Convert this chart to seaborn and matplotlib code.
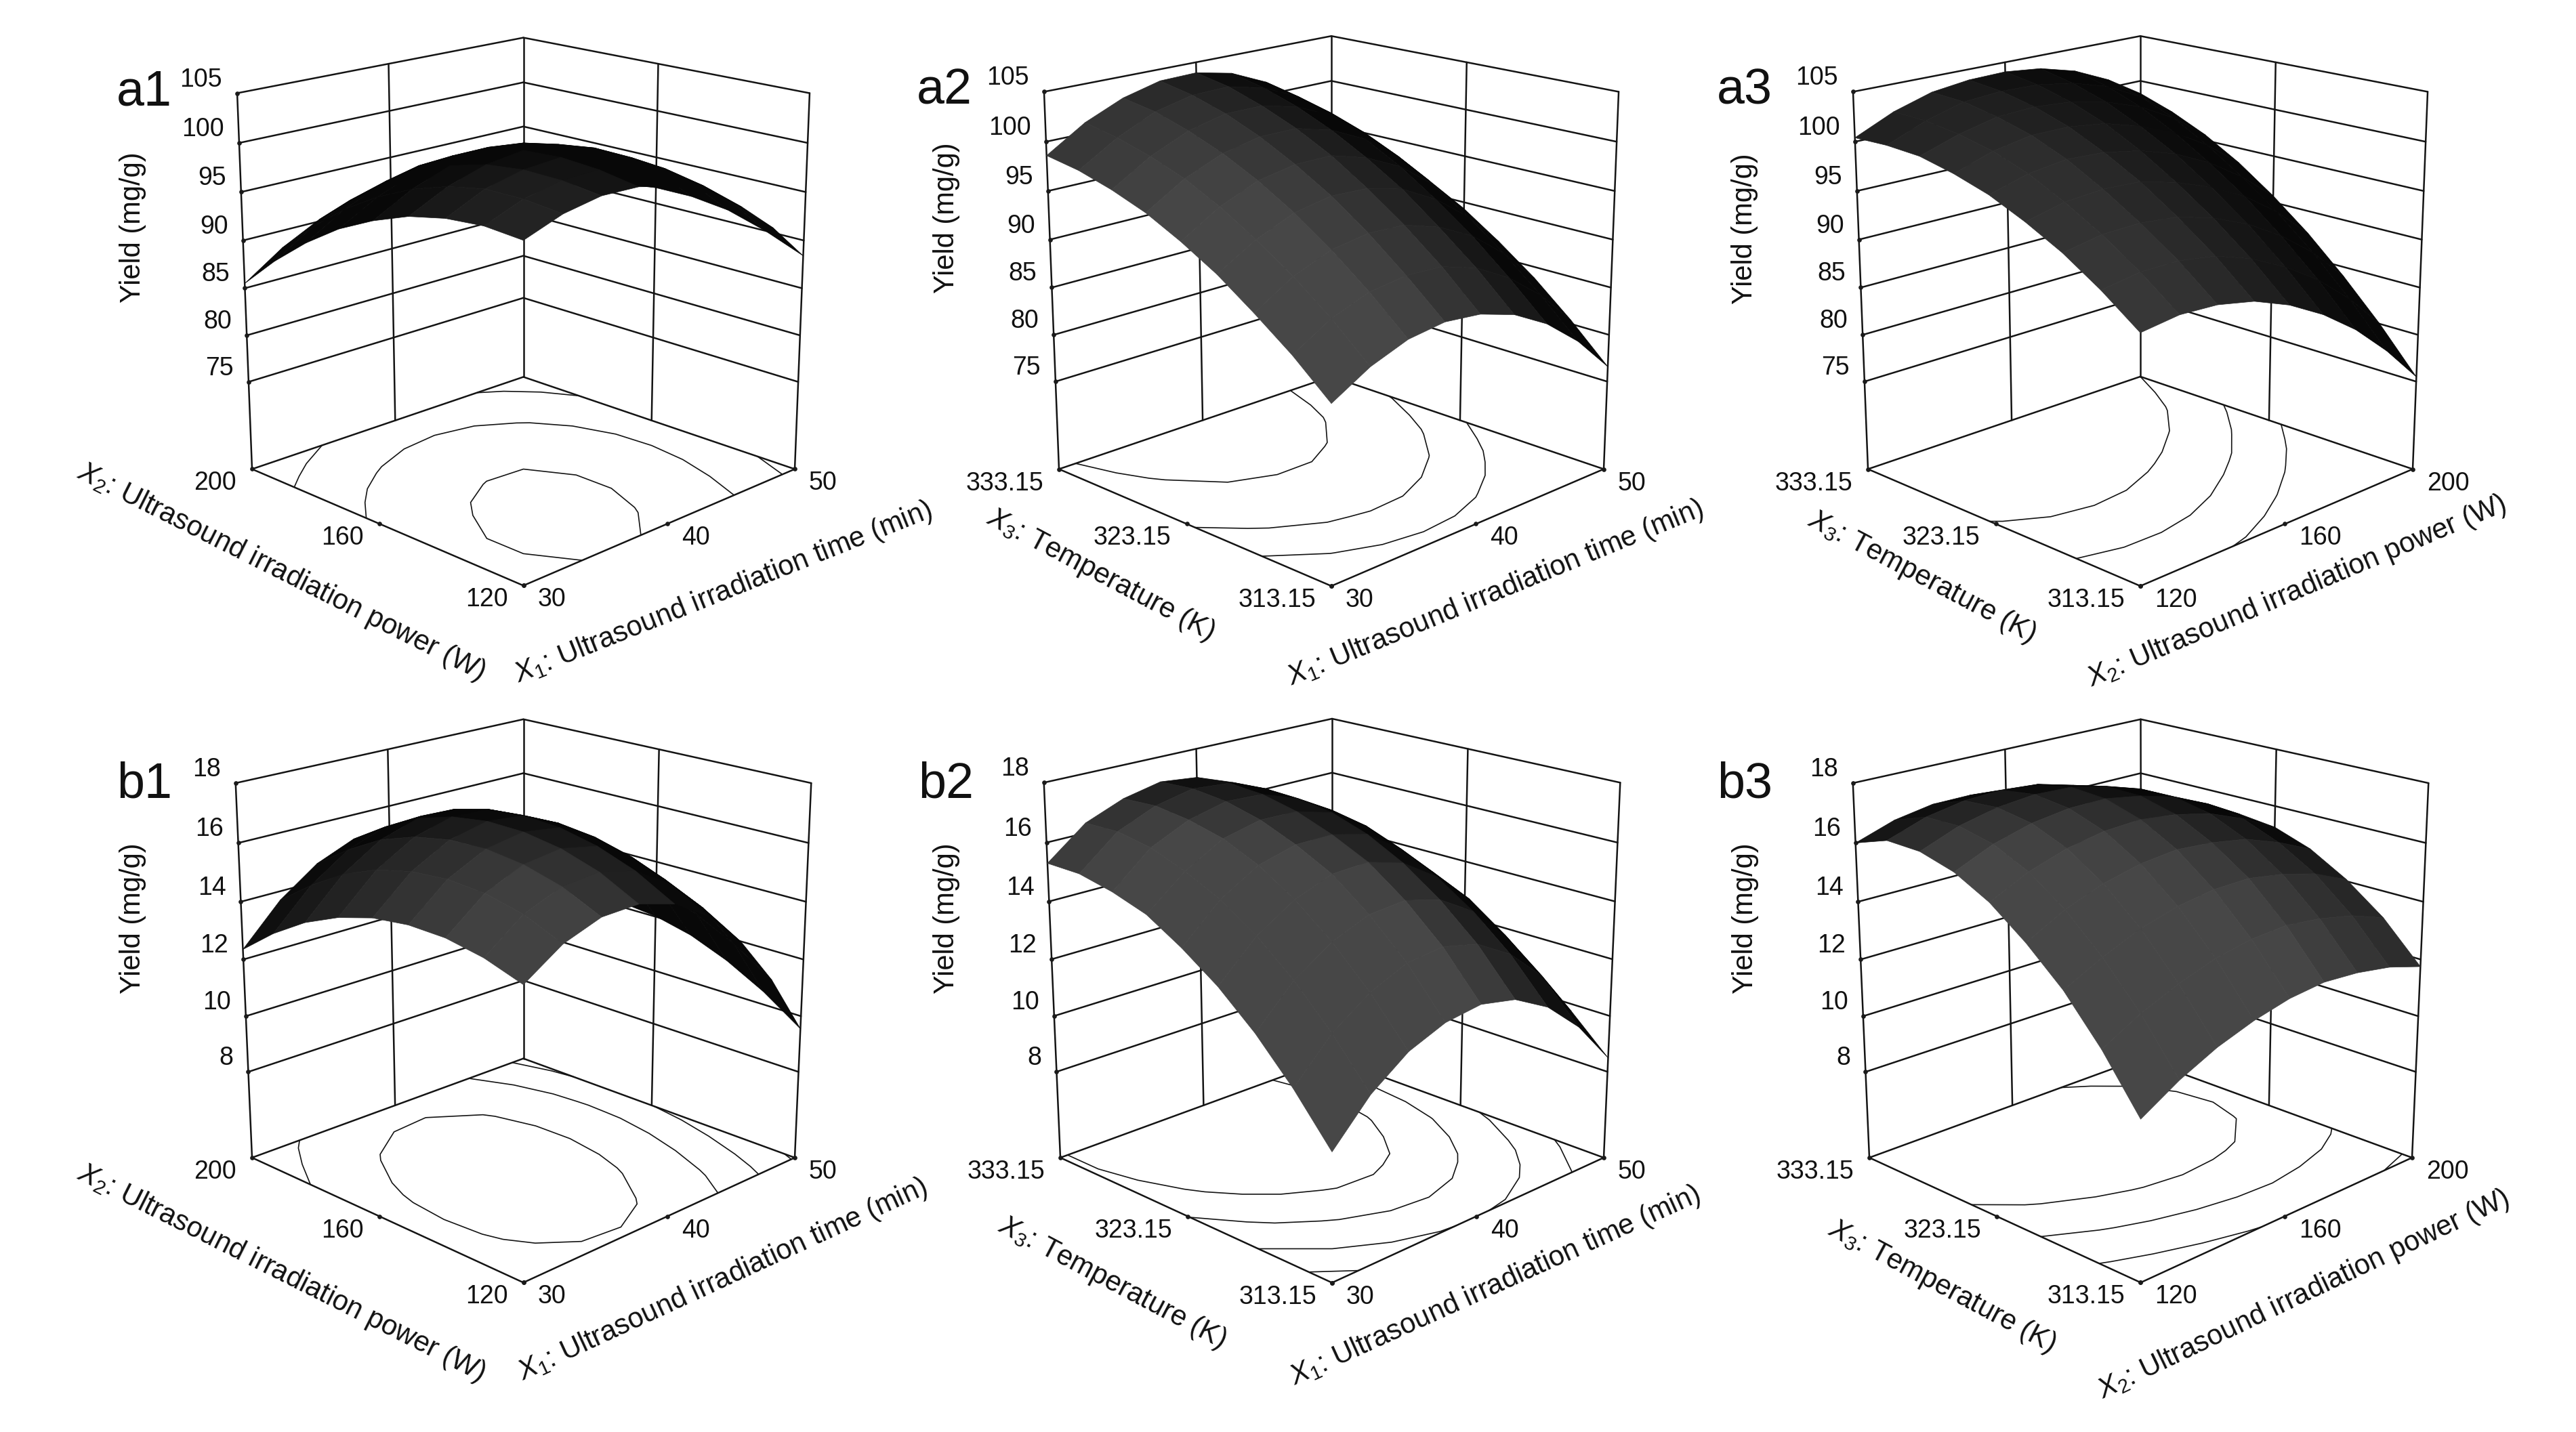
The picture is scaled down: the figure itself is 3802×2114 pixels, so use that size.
import numpy as np
import seaborn as sns
import matplotlib
matplotlib.use("Agg")
import matplotlib.pyplot as plt
from mpl_toolkits.mplot3d import proj3d

# ---------------- data ----------------
X1_GRID = [30, 32.5, 35, 37.5, 40, 42.5, 45, 47.5, 50]
X2_GRID = [120, 130, 140, 150, 160, 170, 180, 190, 200]
X3_GRID = [313.15, 315.65, 318.15, 320.65, 323.15, 325.65, 328.15, 330.65, 333.15]
X1_TICKS = [30, 40, 50]
X2_TICKS = [120, 160, 200]
X3_TICKS = [313.15, 323.15, 333.15]
X1_TICKLABELS = ["30", "40", "50"]
X2_TICKLABELS = ["120", "160", "200"]
X3_TICKLABELS = ["313.15", "323.15", "333.15"]
Z_TICKS_A = [75, 80, 85, 90, 95, 100, 105]
Z_TICKS_B = [8, 10, 12, 14, 16, 18]
Z_FLOOR_A = 65.44
Z_FLOOR_B = 4.85

Z_A1 = [
    [98.2, 99.6, 100.3, 100.2, 99.3, 97.7, 95.4, 92.3, 88.4],
    [98.5, 100.0, 100.8, 100.9, 100.2, 98.8, 96.6, 93.7, 90.0],
    [98.2, 100.0, 100.9, 101.2, 100.7, 99.4, 97.4, 94.6, 91.2],
    [97.4, 99.3, 100.5, 101.0, 100.6, 99.5, 97.6, 95.0, 91.7],
    [96.0, 98.1, 99.5, 100.1, 100.0, 99.0, 97.3, 94.9, 91.7],
    [94.2, 96.4, 97.9, 98.7, 98.7, 98.0, 96.5, 94.2, 91.2],
    [91.8, 94.2, 95.8, 96.8, 96.9, 96.4, 95.0, 93.0, 90.3],
    [88.9, 91.4, 93.2, 94.3, 94.7, 94.3, 93.1, 91.4, 88.9],
    [85.5, 88.2, 90.2, 91.4, 91.9, 91.7, 90.8, 89.2, 87.0],
]
Z_A2 = [
    [83.1, 85.3, 86.7, 87.2, 86.8, 85.6, 83.5, 80.5, 76.6],
    [86.4, 88.7, 90.1, 90.6, 90.4, 89.2, 87.1, 84.2, 80.4],
    [89.2, 91.6, 93.1, 93.7, 93.5, 92.3, 90.4, 87.5, 83.8],
    [91.8, 94.1, 95.7, 96.4, 96.2, 95.2, 93.2, 90.4, 86.7],
    [93.9, 96.3, 97.9, 98.6, 98.6, 97.5, 95.7, 92.9, 89.3],
    [95.7, 98.1, 99.7, 100.5, 100.5, 99.5, 97.7, 95.0, 91.4],
    [97.0, 99.4, 101.1, 102.0, 102.0, 101.1, 99.4, 96.7, 93.2],
    [98.0, 100.4, 102.2, 103.1, 103.2, 102.3, 100.6, 98.0, 94.5],
    [98.6, 101.1, 102.8, 103.8, 103.9, 103.1, 101.4, 98.9, 95.4],
]
Z_A3 = [
    [89.7, 90.2, 90.0, 89.2, 87.7, 85.6, 82.9, 79.5, 75.5],
    [92.5, 93.1, 93.1, 92.5, 91.2, 89.3, 86.9, 83.8, 80.0],
    [94.9, 95.6, 95.7, 95.3, 94.2, 92.6, 90.4, 87.6, 84.0],
    [96.8, 97.7, 98.0, 97.8, 96.8, 95.4, 93.5, 90.9, 87.6],
    [98.4, 99.5, 100.0, 99.8, 99.1, 97.9, 96.1, 93.7, 90.7],
    [99.5, 100.8, 101.5, 101.5, 101.0, 99.9, 98.4, 96.2, 93.4],
    [100.3, 101.6, 102.5, 102.7, 102.4, 101.6, 100.3, 98.3, 95.6],
    [100.5, 102.1, 103.2, 103.5, 103.4, 102.8, 101.7, 99.8, 97.3],
    [100.4, 102.2, 103.4, 103.9, 104.0, 103.6, 102.6, 100.9, 98.6],
]
Z_B1 = [
    [14.40, 15.25, 15.70, 15.74, 15.38, 14.60, 13.38, 11.69, 9.55],
    [14.82, 15.79, 16.29, 16.40, 16.09, 15.33, 14.16, 12.54, 10.46],
    [15.05, 16.08, 16.64, 16.81, 16.56, 15.86, 14.76, 13.19, 11.17],
    [15.08, 16.17, 16.80, 17.02, 16.84, 16.20, 15.16, 13.65, 11.70],
    [14.93, 16.07, 16.76, 17.05, 16.92, 16.35, 15.36, 13.92, 12.02],
    [14.57, 15.78, 16.53, 16.88, 16.82, 16.30, 15.37, 13.99, 12.16],
    [14.03, 15.29, 16.11, 16.51, 16.51, 16.06, 15.19, 13.87, 12.10],
    [13.28, 14.56, 15.44, 15.90, 15.96, 15.62, 14.82, 13.56, 11.84],
    [12.35, 13.69, 14.62, 15.15, 15.27, 14.99, 14.25, 13.05, 11.40],
]
Z_B2 = [
    [9.15, 10.51, 11.43, 11.93, 12.10, 11.84, 11.16, 10.04, 8.50],
    [10.70, 12.02, 12.91, 13.46, 13.60, 13.30, 12.57, 11.42, 9.74],
    [12.02, 13.30, 14.15, 14.66, 14.76, 14.42, 13.66, 12.46, 10.84],
    [13.10, 14.34, 15.15, 15.63, 15.68, 15.31, 14.50, 13.37, 11.71],
    [13.95, 15.15, 15.92, 16.26, 16.27, 15.96, 15.12, 13.95, 12.35],
    [14.66, 15.72, 16.46, 16.76, 16.73, 16.38, 15.60, 14.39, 12.75],
    [15.04, 16.16, 16.76, 17.07, 17.01, 16.56, 15.84, 14.59, 12.92],
    [15.29, 16.37, 16.92, 17.20, 17.09, 16.61, 15.85, 14.57, 12.85],
    [15.30, 16.34, 16.86, 17.14, 17.00, 16.53, 15.63, 14.30, 12.55],
]
Z_B3 = [
    [10.20, 10.97, 11.57, 12.00, 12.30, 12.43, 12.34, 12.13, 11.75],
    [11.95, 12.66, 13.20, 13.62, 13.86, 13.94, 13.79, 13.52, 13.08],
    [13.40, 14.05, 14.59, 14.94, 15.13, 15.15, 14.94, 14.61, 14.06],
    [14.51, 15.20, 15.68, 15.98, 16.11, 16.01, 15.80, 15.36, 14.80],
    [15.43, 16.06, 16.48, 16.72, 16.79, 16.64, 16.36, 15.87, 15.25],
    [16.05, 16.62, 16.98, 17.16, 17.18, 16.97, 16.63, 16.08, 15.40],
    [16.38, 16.89, 17.19, 17.32, 17.27, 17.00, 16.61, 16.00, 15.26],
    [16.41, 16.87, 17.11, 17.17, 17.07, 16.74, 16.29, 15.62, 14.83],
    [16.00, 16.45, 16.68, 16.69, 16.53, 16.14, 15.63, 14.95, 14.10],
]
LEVELS_A1 = [90.0, 95.3, 100.0]
LEVELS_A2 = [88.8, 93.4, 99.7]
LEVELS_A3 = [89.6, 94.2, 98.6]
LEVELS_B1 = [9.8, 12.0, 13.95, 15.95]
LEVELS_B2 = [10.1, 12.0, 13.9, 15.5]
LEVELS_B3 = [12.1, 14.2, 15.9]

LABEL_X1 = r"$\mathit{X}_{\mathit{1}}$: Ultrasound irradiation time (min)"
LABEL_X2 = r"$\mathit{X}_{\mathit{2}}$: Ultrasound irradiation power (W)"
LABEL_X3 = r"$\mathit{X}_{\mathit{3}}$: Temperature (K)"
LABEL_Z = "Yield (mg/g)"

# ---------------- styling / layout ----------------
W, H = 3802, 2114
sns.set_theme(style="white")
plt.rcParams["font.family"] = ["Liberation Sans", "DejaVu Sans"]
plt.rcParams["mathtext.fontset"] = "custom"
plt.rcParams["mathtext.rm"] = "Liberation Sans"
plt.rcParams["mathtext.it"] = "Liberation Sans:italic"
plt.rcParams["mathtext.bf"] = "Liberation Sans:bold"

LINE = "#141414"
LW = 1.8
TICK_PT = 27
LABEL_PT = 30
LETTER_PT = 53
ELEV = {"a": 17.5, "b": 19.3}
HEIGHT = {"a": 1.0, "b": 1.004}
FOCAL = 0.62

fig = plt.figure(figsize=(W / 100, H / 100), dpi=100, facecolor="white")

panels = [
    dict(name="a1", row="a", Z=Z_A1, xg=X1_GRID, yg=X2_GRID, xt=X1_TICKS, yt=X2_TICKS,
         xl=X1_TICKLABELS, yl=X2_TICKLABELS, lx=LABEL_X1, ly=LABEL_X2, levels=LEVELS_A1,
         floor=(372, 1173, 692.5), ylab=(415, 844, -26.7), xlab=(1068, 875, 21.8),
         zlab=(196, 336), let=(213, 136)),
    dict(name="a2", row="a", Z=Z_A2, xg=X1_GRID, yg=X3_GRID, xt=X1_TICKS, yt=X3_TICKS,
         xl=X1_TICKLABELS, yl=X3_TICKLABELS, lx=LABEL_X1, ly=LABEL_X3, levels=LEVELS_A2,
         floor=(1563, 2367, 692.5), ylab=(1625, 849, -27.8), xlab=(2207, 876, 22.4),
         zlab=(1397, 322), let=(1394, 134)),
    dict(name="a3", row="a", Z=Z_A3, xg=X2_GRID, yg=X3_GRID, xt=X2_TICKS, yt=X3_TICKS,
         xl=X2_TICKLABELS, yl=X3_TICKLABELS, lx=LABEL_X2, ly=LABEL_X3, levels=LEVELS_A3,
         floor=(2757, 3561, 692.5), ylab=(2837, 852, -27.8), xlab=(3390, 873, 23),
         zlab=(2575, 338), let=(2575, 134)),
    dict(name="b1", row="b", Z=Z_B1, xg=X1_GRID, yg=X2_GRID, xt=X1_TICKS, yt=X2_TICKS,
         xl=X1_TICKLABELS, yl=X2_TICKLABELS, lx=LABEL_X1, ly=LABEL_X2, levels=LEVELS_B1,
         floor=(372, 1173, 1709), ylab=(415, 1879, -26.7), xlab=(1067, 1889, 24.8),
         zlab=(196, 1356), let=(213, 1158)),
    dict(name="b2", row="b", Z=Z_B2, xg=X1_GRID, yg=X3_GRID, xt=X1_TICKS, yt=X3_TICKS,
         xl=X1_TICKLABELS, yl=X3_TICKLABELS, lx=LABEL_X1, ly=LABEL_X3, levels=LEVELS_B2,
         floor=(1565, 2367, 1709), ylab=(1642, 1894, -27.8), xlab=(2207, 1899, 24.4),
         zlab=(1397, 1356), let=(1396, 1158)),
    dict(name="b3", row="b", Z=Z_B3, xg=X2_GRID, yg=X3_GRID, xt=X2_TICKS, yt=X3_TICKS,
         xl=X2_TICKLABELS, yl=X3_TICKLABELS, lx=LABEL_X2, ly=LABEL_X3, levels=LEVELS_B3,
         floor=(2759, 3560, 1709), ylab=(2866, 1899, -28), xlab=(3400, 1911, 25.5),
         zlab=(2576, 1356), let=(2575, 1158)),
]


def disp(ax, x, y, z):
    px, py, _ = proj3d.proj_transform(x, y, z, ax.get_proj())
    d = ax.transData.transform((px, py))
    return d[0], H - d[1]


def ftext(px, py, s, **kw):
    fig.text(px / W, 1 - py / H, s, color="#111111", **kw)


def face_gray(Z, zf, zt, elev, height):
    zb = (Z - zf) / (zt - zf) * height
    n = zb.shape[0] - 1
    dzdb, dzda = np.gradient(zb, 1.0 / n)
    nrm = np.sqrt(dzda ** 2 + dzdb ** 2 + 1)
    e = np.radians(elev)
    vx = np.cos(e) * np.sqrt(0.5)
    dot = (dzda * vx + dzdb * vx + np.sin(e)) / nrm
    g = 0.03 + 0.25 * np.clip((dot - 0.32) / 0.45, 0, 1)
    return np.dstack([g, g, g, np.ones_like(g)])


for p in panels:
    row = p["row"]
    ztk = Z_TICKS_A if row == "a" else Z_TICKS_B
    zf = Z_FLOOR_A if row == "a" else Z_FLOOR_B
    zt = ztk[-1]
    xg, yg = np.array(p["xg"], float), np.array(p["yg"], float)
    Z = np.array(p["Z"], float)
    xa, xb = xg[0], xg[-1]
    ya, yb = yg[0], yg[-1]
    xm, ym = p["xt"][1], p["yt"][1]

    left, right, fy = p["floor"]
    S = 1000
    ax = fig.add_axes([((left + right) / 2 - S / 2) / W, 1 - (fy + S / 2) / H, S / W, S / H],
                      projection="3d", computed_zorder=False)
    ax.set_proj_type("persp", focal_length=FOCAL)
    ax.view_init(elev=ELEV[row], azim=-135)
    ax.set_box_aspect((1, 1, HEIGHT[row]), zoom=1.0)
    ax.set_xlim(xa, xb)
    ax.set_ylim(ya, yb)
    ax.set_zlim(zf, zt)
    ax.set_axis_off()
    ax.patch.set_visible(False)

    # walls and floor
    def seg(xs, ys, zs):
        ax.plot(xs, ys, zs, color=LINE, lw=LW, zorder=1, solid_capstyle="round")

    for z in ztk:
        seg([xa, xb], [yb, yb], [z, z])
        seg([xb, xb], [ya, yb], [z, z])
    for (vx, vy) in [(xa, yb), (xm, yb), (xb, yb), (xb, ym), (xb, ya)]:
        seg([vx, vx], [vy, vy], [zf, zt])
    seg([xa, xb], [ya, ya], [zf, zf])
    seg([xa, xb], [yb, yb], [zf, zf])
    seg([xa, xa], [ya, yb], [zf, zf])
    seg([xb, xb], [ya, yb], [zf, zf])

    # contours on the floor
    XX, YY = np.meshgrid(xg, yg)
    ax.contour(XX, YY, Z, levels=p["levels"], zdir="z", offset=zf,
               colors="#141414", linewidths=1.2, zorder=1.5)

    # tick dots
    ax.plot([xa] * len(ztk), [yb] * len(ztk), ztk, ls="", marker="o", ms=3.8, color="k", zorder=2)
    ax.plot(p["xt"], [ya] * 3, [zf] * 3, ls="", marker="o", ms=3.8, color="k", zorder=2)
    ax.plot([xa] * 3, p["yt"], [zf] * 3, ls="", marker="o", ms=3.8, color="k", zorder=2)

    # the surface
    fc = face_gray(Z, zf, zt, ELEV[row], HEIGHT[row])
    ax.plot_surface(XX, YY, Z, facecolors=fc, shade=False, rstride=1, cstride=1,
                    linewidth=0.5, antialiased=True, zorder=3)

    # fit the floor's left and right corners to their place in the figure
    for _ in range(3):
        ax.apply_aspect()
        x0, y0 = disp(ax, xa, yb, zf)
        x1, y1 = disp(ax, xb, ya, zf)
        pos = ax.get_position()
        cx, cy = (pos.x0 + pos.width / 2) * W, (1 - (pos.y0 + pos.height / 2)) * H
        scale = (right - left) / (x1 - x0)
        mx, my = (x0 + x1) / 2, (y0 + y1) / 2
        ncx = (left + right) / 2 - (mx - cx) * scale
        ncy = fy - (my - cy) * scale
        S *= scale
        ax.set_position([(ncx - S / 2) / W, 1 - (ncy + S / 2) / H, S / W, S / H])
    ax.apply_aspect()

    # tick labels
    for z in ztk:
        tx, ty = disp(ax, xa, yb, z)
        ftext(tx - 22, ty - 20, str(z), fontsize=TICK_PT, ha="right", va="center")
    for v, s in zip(p["xt"], p["xl"]):
        tx, ty = disp(ax, v, ya, zf)
        ftext(tx + 21, ty + 21, s, fontsize=TICK_PT, ha="left", va="center")
    for v, s in zip(p["yt"], p["yl"]):
        tx, ty = disp(ax, xa, v, zf)
        ftext(tx - 23, ty + 21, s, fontsize=TICK_PT, ha="right", va="center")

    # axis labels and panel letter
    ftext(p["xlab"][0], p["xlab"][1], p["lx"], fontsize=LABEL_PT, rotation=p["xlab"][2],
          ha="center", va="center", rotation_mode="anchor")
    ftext(p["ylab"][0], p["ylab"][1], p["ly"], fontsize=LABEL_PT, rotation=p["ylab"][2],
          ha="center", va="center", rotation_mode="anchor")
    ftext(p["zlab"][0], p["zlab"][1], LABEL_Z, fontsize=LABEL_PT, rotation=90,
          ha="center", va="center", rotation_mode="anchor")
    ftext(p["let"][0], p["let"][1], p["name"], fontsize=LETTER_PT, ha="center", va="center")

fig.savefig("out.png", dpi=100, facecolor="white")
